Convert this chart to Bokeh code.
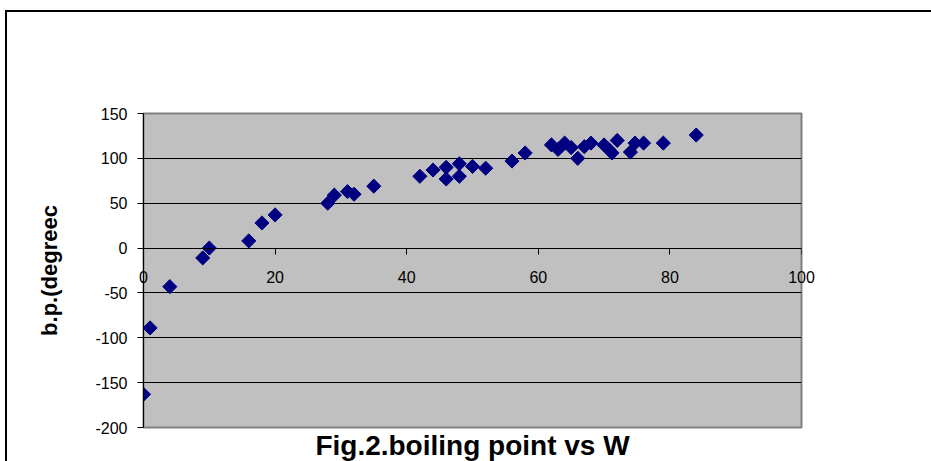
import math
from bokeh.plotting import figure
from bokeh.models import Range1d, FixedTicker, Title, LinearAxis, GlobalInlineStyleSheet
from bokeh.embed import file_html
from bokeh.resources import INLINE

# Data
w_values = [0, 1, 4, 9, 10, 16, 18, 20, 28, 29, 31, 32, 35, 42, 44, 46, 46, 48, 48,
            50, 52, 56, 58, 62, 63, 64, 65, 66, 67, 68, 70, 70.7, 71.2, 72, 74,
            74.7, 76, 79, 84]
bp_values = [-163, -89, -43, -11, 0, 8, 28, 37, 50, 59, 63, 60, 69, 80, 87, 90, 77,
             94, 80, 91, 89, 97, 106, 115, 110, 117, 112, 100, 113, 117, 115, 110,
             106, 120, 107, 117, 117, 117, 126]
x_ticks = [0, 20, 40, 60, 80, 100]
x_tick_labels = ["0", "20", "40", "60", "80", "100"]
y_ticks = [-200, -150, -100, -50, 0, 50, 100, 150]
y_tick_labels = ["-200", "-150", "-100", "-50", "0", "50", "100", "150"]
y_label = "b.p.(degreec"
fig_title = "Fig.2.boiling point vs W"

FONT = "Liberation Sans"

p = figure(width=931, height=461, output_backend="svg", toolbar_location=None,
           x_range=Range1d(0, 100), y_range=Range1d(-200, 150),
           min_border_left=143, min_border_right=130, min_border_top=113,
           min_border_bottom=34)

# outer chart frame (top and left edges) drawn as the page background,
# seen through the transparent figure border
p.border_fill_color = None
p.stylesheets = [GlobalInlineStyleSheet(css=(
    "html { margin: 0; padding: 0; background-color: #FFFFFF; "
    "background-image: linear-gradient(#000000, #000000), linear-gradient(#000000, #000000); "
    "background-size: 100% 2px, 2px 100%; "
    "background-position: 5px 10px, 5px 10px; "
    "background-repeat: no-repeat; } "
    "body { margin: 0; padding: 0; background: transparent; }"
))]

p.background_fill_color = "#C0C0C0"
p.outline_line_color = "#808080"
p.outline_line_width = 2

# grid
p.xgrid.visible = False
p.ygrid.ticker = FixedTicker(ticks=y_ticks)
p.ygrid.grid_line_color = "#000000"
p.ygrid.grid_line_width = 1

# bottom axis: only carries the tick labels, lifted up to the y = 0 line
xa = p.xaxis[0]
xa.ticker = FixedTicker(ticks=x_ticks)
xa.major_label_overrides = dict(zip(x_ticks, x_tick_labels))
xa.axis_line_color = None
xa.major_tick_line_color = None
xa.minor_tick_line_color = None
xa.major_tick_out = 0
xa.major_tick_in = 0
xa.major_label_standoff = -157
xa.major_label_text_font = FONT
xa.major_label_text_font_size = "16px"
xa.major_label_text_color = "#000000"

# axis line and ticks crossing at y = 0
x0 = LinearAxis(fixed_location=0, ticker=FixedTicker(ticks=x_ticks),
                axis_line_color="#000000", major_tick_line_color="#000000",
                major_tick_out=6, major_tick_in=0, minor_tick_line_color=None,
                major_label_text_alpha=0, major_label_text_font_size="1px")
p.add_layout(x0, "below")

ya = p.yaxis[0]
ya.ticker = FixedTicker(ticks=y_ticks)
ya.axis_line_color = "#000000"
ya.major_tick_line_color = "#000000"
ya.major_tick_out = 6
ya.major_tick_in = 0
ya.minor_tick_line_color = None
ya.major_label_overrides = dict(zip(y_ticks, y_tick_labels))
ya.major_label_standoff = 10
ya.major_label_text_font = FONT
ya.major_label_text_font_size = "16px"
ya.major_label_text_color = "#000000"
ya.axis_label = y_label
ya.axis_label_text_font = FONT
ya.axis_label_text_font_size = "22px"
ya.axis_label_text_font_style = "bold"
ya.axis_label_text_color = "#000000"
ya.axis_label_standoff = 30

t = Title(text=fig_title, align="center", text_font=FONT, text_font_size="28px",
          text_font_style="bold", text_color="#000000", standoff=0)
p.add_layout(t, "below")

p.scatter(w_values, bp_values, marker="square", size=10, angle=math.pi / 4,
          fill_color="#000080", line_color="#000080")

open("out.html", "w").write(file_html(p, INLINE))
